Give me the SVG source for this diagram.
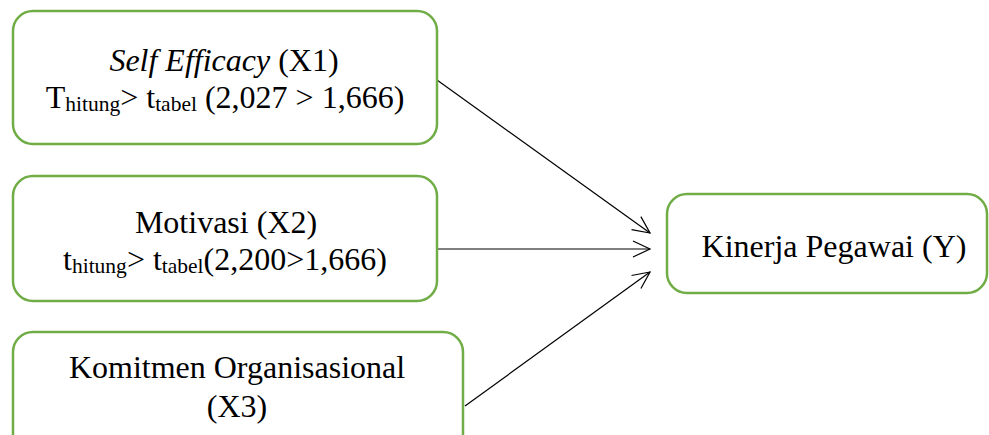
<svg xmlns="http://www.w3.org/2000/svg" width="989" height="435" viewBox="0 0 989 435">
<style>
.box{fill:#fff;stroke:#70ad47;stroke-width:2.5}
text{font-family:'Times New Roman','Liberation Serif',serif;font-size:32px;fill:#000;text-anchor:middle}
.sub{font-size:21.5px}
.c{stroke:#000;stroke-width:1.2;fill:none}
</style>
<defs>
<marker id="arr" markerWidth="20" markerHeight="20" refX="18" refY="9" orient="auto" markerUnits="userSpaceOnUse">
<path d="M1,1 L18,9 L1,17" fill="none" stroke="#000" stroke-width="1.2"/>
</marker>
</defs>
<rect width="989" height="435" fill="#fff"/>
<g id="connectors">
<line class="c" x1="437" y1="80" x2="650" y2="233" marker-end="url(#arr)"/>
<line class="c" x1="437" y1="249" x2="650" y2="249" marker-end="url(#arr)"/>
<line class="c" x1="465" y1="406" x2="650" y2="272" marker-end="url(#arr)"/>
</g>
<g id="x1">
<rect class="box" x="13" y="11" width="424" height="133" rx="20"/>
<text x="224" y="71"><tspan font-style="italic">Self Efficacy</tspan> (X1)</text>
<text x="225" y="108">T<tspan class="sub" dy="3">hitung</tspan><tspan dy="-3">&gt; t</tspan><tspan class="sub" dy="3">tabel</tspan><tspan dy="-3"> (2,027 &gt; 1,666)</tspan></text>
</g>
<g id="x2">
<rect class="box" x="13" y="176" width="424" height="125" rx="20"/>
<text x="226" y="233">Motivasi (X2)</text>
<text x="225" y="270">t<tspan class="sub" dy="3">hitung</tspan><tspan dy="-3">&gt; t</tspan><tspan class="sub" dy="3">tabel</tspan><tspan dy="-3">(2,200&gt;1,666)</tspan></text>
</g>
<g id="x3">
<rect class="box" x="13" y="332" width="450" height="130" rx="20"/>
<text x="237" y="378">Komitmen Organisasional</text>
<text x="237" y="417">(X3)</text>
</g>
<g id="y">
<rect class="box" x="667" y="194" width="320" height="99" rx="20"/>
<text x="834" y="257">Kinerja Pegawai (Y)</text>
</g>
</svg>
